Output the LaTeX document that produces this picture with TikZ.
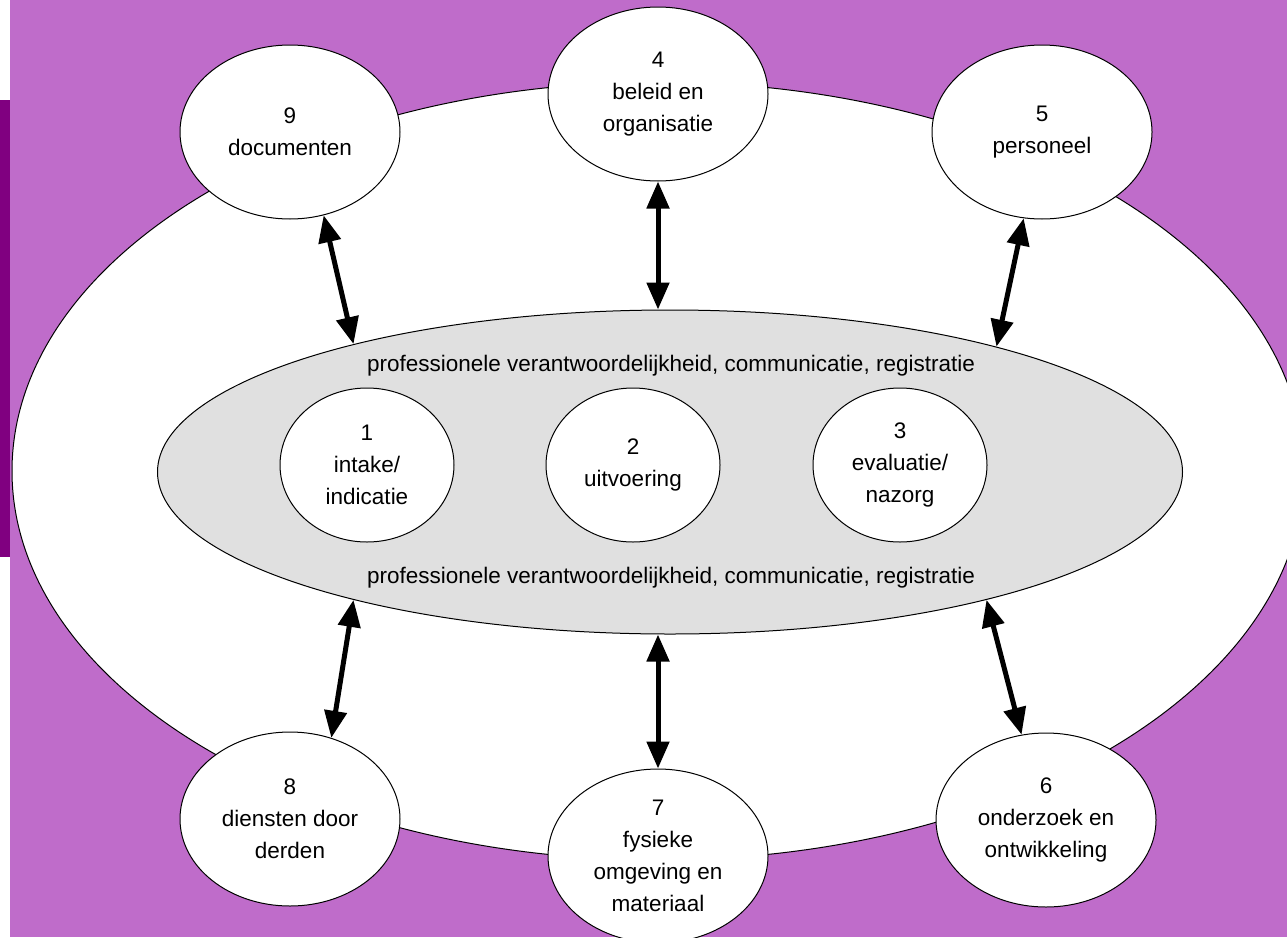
\documentclass[tikz,border=0pt]{standalone}
\usepackage{fontspec}
\setmainfont{Liberation Sans}
\usetikzlibrary{shapes.geometric,arrows.meta}
\definecolor{bgpurple}{RGB}{191,108,202}
\definecolor{barpurple}{RGB}{128,0,128}
\definecolor{coregray}{RGB}{224,224,224}
\tikzset{
  lbl/.style={font=\fontsize{22.5}{32}\selectfont, align=center, inner sep=0pt},
  bubble/.style={ellipse, draw=black, line width=1pt, fill=white, inner sep=0pt,
    lbl, minimum width=220pt, minimum height=174pt},
  innerbubble/.style={bubble, minimum width=174pt, minimum height=154pt},
  link/.style={line width=5pt,
    {Triangle[length=27pt,width=22pt]}-{Triangle[length=27pt,width=22pt]}}
}
\begin{document}
\begin{tikzpicture}[x=1pt,y=-1pt]
\useasboundingbox (0,0) rectangle (1287,937);
\clip (0,0) rectangle (1287,937);
% background
\fill[bgpurple] (10,0) rectangle (1287,937);
\fill[barpurple] (0,100) rectangle (10,557);
% outer ellipse
\node[ellipse, draw=black, line width=1pt, fill=white, inner sep=0pt,
  minimum width=1292pt, minimum height=778pt] (outer) at (658,471) {};
% core ellipse
\node[ellipse, draw=black, line width=1pt, fill=coregray, inner sep=0pt,
  minimum width=1025pt, minimum height=324pt] (core) at (670,472) {};
\node[lbl] (toplbl) at (671,366) {professionele verantwoordelijkheid, communicatie, registratie};
\node[lbl] (botlbl) at (671,578) {professionele verantwoordelijkheid, communicatie, registratie};
% inner bubbles
\node[innerbubble] (n1) at (367,465) {1\\intake/\\indicatie};
\node[innerbubble] (n2) at (633,465) {2\\uitvoering};
\node[innerbubble] (n3) at (900,465) {3\\evaluatie/\\nazorg};
% outer bubbles
\node[bubble] (n9) at (290,132) {9\\documenten};
\node[bubble] (n4) at (658,94) {4\\beleid en\\organisatie};
\node[bubble] (n5) at (1042,132) {5\\personeel};
\node[bubble] (n8) at (290,819) {8\\diensten door\\derden};
\node[bubble] (n7) at (658,856) {7\\fysieke\\omgeving en\\materiaal};
\node[bubble] (n6) at (1046,820) {6\\onderzoek en\\ontwikkeling};
% connectors
\draw[link] (n9.-68) -- (core.158);
\draw[link] (n4.south) -- (n4.south |- core.north);
\draw[link] (n5.-102) -- (core.21.4);
\draw[link] (core.-158) -- (n8.63.4);
\draw[link] (n7.north |- core.south) -- (n7.north);
\draw[link] (core.-22) -- (n6.106);
\end{tikzpicture}
\end{document}
